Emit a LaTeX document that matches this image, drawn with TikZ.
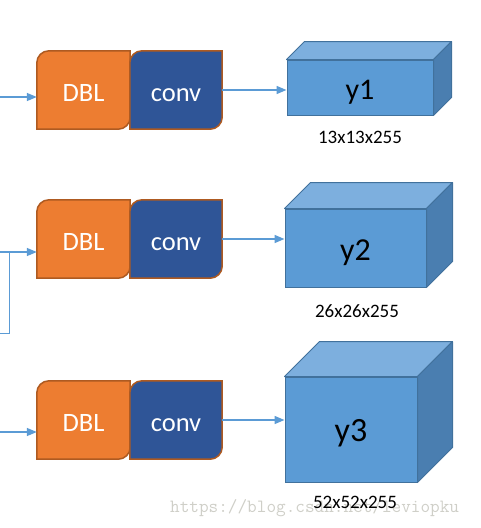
\documentclass[tikz,border=0pt]{standalone}
\usepackage{fontspec}
\setmainfont{Carlito}
\usetikzlibrary{calc,arrows.meta,backgrounds}
\definecolor{dblorange}{HTML}{ED7D31}
\definecolor{convblue}{HTML}{2F5597}
\definecolor{boxedge}{HTML}{AE5A21}
\definecolor{cubefront}{HTML}{5B9BD5}
\definecolor{cubetop}{HTML}{7DAFDE}
\definecolor{cubeside}{HTML}{4A7EB0}
\definecolor{cubeedge}{HTML}{41719C}
\definecolor{markgray}{HTML}{CFCFC8}
\def\diagframe[#1](#2){\draw[#1] (#2.south west) -- ($(#2.north west)+(0,12)$) .. controls +(0,-6.6) and +(-6.6,0) .. ($(#2.north west)+(12,0)$) -- (#2.north east) -- ($(#2.south east)+(0,-12)$) .. controls +(0,6.6) and +(6.6,0) .. ($(#2.south east)+(-12,0)$) -- cycle;}
\def\cubesides(#1)#2{\draw[topface] (#1.north west) -- ++(#2,-#2) -- ($(#1.north east)+(#2,-#2)$) -- (#1.north east) -- cycle;
  \draw[sideface] (#1.north east) -- ++(#2,-#2) -- ($(#1.south east)+(#2,-#2)$) -- (#1.south east) -- cycle;}
\tikzset{
  block/.style={minimum height=78, minimum width=93, inner sep=0, text height=22, text depth=0, text=white, font=\fontsize{26.5}{30}\selectfont},
  frame/.style={line width=1.5, draw=boxedge},
  front/.style={draw=cubeedge, line width=1, fill=cubefront, inner sep=0, text height=24.5, text depth=0, text=black},
  topface/.style={draw=cubeedge, line width=1, fill=cubetop, line join=round},
  sideface/.style={draw=cubeedge, line width=1, fill=cubeside, line join=round},
  dims/.style={inner sep=0, font=\fontsize{19}{22}\selectfont},
  flow/.style={draw=cubefront, line width=1.5, -{Triangle[length=10pt,width=8pt]}},
  wire/.style={draw=cubefront, line width=1},
}
\begin{document}
\begin{tikzpicture}[x=1pt,y=-1pt]
		%%%%% START %%%%%
		\useasboundingbox (0,0) rectangle (480,528);
		
		\node[anchor=west, inner sep=0, text=markgray, font=\ttfamily\fontsize{18.7}{20}\selectfont] (mark) at (170,508) {https://blog.csdn.net/leviopku};
		
		% head 1
		\node[block] (dbl1) at (83.5,90) {DBL};
		\node[block, minimum width=92] (conv1) at (176,90) {conv};
		\node[front, minimum width=146, minimum height=55, font=\fontsize{30}{34}\selectfont] (cube1) at (360,87.5) {y1};
		\cubesides(cube1){18}
		\node[dims] (dim1) at (360,137) {13x13x255};
		
		% head 2
		\node[block] (dbl2) at (83.5,239) {DBL};
		\node[block, minimum width=92] (conv2) at (176,239) {conv};
		\node[front, minimum width=141, minimum height=78, font=\fontsize{32}{36}\selectfont] (cube2) at (355.5,248) {y2};
		\cubesides(cube2){26}
		\node[dims] (dim2) at (357,311) {26x26x255};
		
		% head 3
		\node[block] (dbl3) at (83.5,420) {DBL};
		\node[block, minimum width=92] (conv3) at (176,420) {conv};
		\node[front, minimum width=132, minimum height=105, font=\fontsize{34}{38}\selectfont] (cube3) at (351,429.5) {y3};
		\cubesides(cube3){35}
		\node[dims] (dim3) at (355,502) {52x52x255};
		
		\begin{scope}[on background layer]
		\diagframe[frame, fill=dblorange](dbl1)
		\diagframe[frame, fill=convblue](conv1)
		\diagframe[frame, fill=dblorange](dbl2)
		\diagframe[frame, fill=convblue](conv2)
		\diagframe[frame, fill=dblorange](dbl3)
		\diagframe[frame, fill=convblue](conv3)
		\end{scope}
		
		\coordinate (in1) at (0,97);
		\coordinate (in2) at (0,252);
		\coordinate (in3) at (0,432);
		\coordinate (split) at (9.5,252);
		\coordinate (branch) at (0,333);
		
		\draw[flow] (in1) -- (in1 -| dbl1.west);
		\draw[flow] (in2) -- (in2 -| dbl2.west);
		\draw[flow] (in3) -- (in3 -| dbl3.west);
		\draw[wire] (split) |- (branch);
		
		\draw[flow] (conv1.east) -- (conv1.east -| cube1.west);
		\draw[flow] (conv2.east) -- (conv2.east -| cube2.west);
		\draw[flow] (conv3.east) -- (conv3.east -| cube3.west);
		
		%%%%% END %%%%%
	\end{tikzpicture}
\end{document}
